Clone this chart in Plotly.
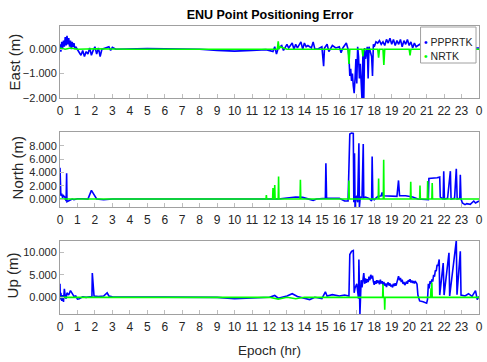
import plotly.graph_objects as go

# ---------------- data (hours, metres) ----------------
hour_ticks = list(range(0, 25))
hour_labels = [str(h) for h in range(24)] + ["0"]

east_ppp_t = [0.00,0.05,0.10,0.15,0.20,0.25,0.30,0.35,0.40,0.45,0.50,0.55,0.60,0.65,0.70,0.75,0.80,0.85,0.90,1.00,
              1.10,1.20,1.30,1.40,1.50,1.60,1.70,1.80,1.90,2.00,2.10,2.20,2.30,2.40,2.60,2.80,2.90,3.00,3.20,
              4.0,5.0,6.0,7.0,8.0,9.0,10.0,11.0,11.8,
              12.2,12.3,12.4,12.5,12.7,12.8,13.0,13.1,13.3,13.4,13.5,13.6,13.8,13.9,14.0,14.1,14.2,14.4,14.5,14.6,14.8,
              15.0,15.1,15.15,15.3,15.4,15.6,15.8,16.0,16.1,16.2,16.4,16.5,
              16.55,16.6,16.65,16.7,16.75,16.8,16.85,16.9,16.95,17.0,17.05,17.1,17.15,17.2,17.25,17.3,17.35,17.4,17.45,
              17.5,17.6,17.65,17.7,17.85,17.9,17.95,18.0,
              18.1,18.2,18.3,18.4,18.5,18.6,18.7,18.8,18.9,19.0,19.1,19.2,19.3,19.4,19.5,19.6,19.7,19.8,19.9,20.0,
              20.1,20.2,20.3,20.4,20.6,20.8,21.0,21.2,21.5,21.7,21.75,22.0,23.0,24.0]
east_ppp_v = [0.20,-0.10,0.30,0.05,0.35,0.10,0.50,0.15,0.55,0.20,0.45,0.10,0.35,0.00,0.30,0.10,0.25,0.00,0.10,0.00,
              -0.10,-0.25,-0.05,-0.30,-0.10,-0.20,0.05,-0.25,-0.05,0.10,-0.20,0.05,-0.30,0.00,0.05,0.10,-0.05,0.08,0.00,
              0.02,0.03,0.02,0.01,0.00,-0.05,-0.08,-0.05,-0.02,
              -0.10,0.10,-0.20,0.05,0.15,-0.05,0.20,0.05,0.25,0.00,0.20,0.05,0.30,0.00,0.25,0.10,0.15,0.05,0.30,0.00,0.02,
              0.10,-0.70,0.05,0.20,-0.10,0.15,0.05,0.10,-0.15,0.05,0.25,0.00,
              -0.30,-1.10,-0.80,-1.30,-1.00,-1.50,-1.80,-1.20,-0.40,-1.40,0.10,-0.30,-1.20,-0.60,-1.50,-2.10,-0.20,-2.10,0.05,
              -0.40,0.10,-1.20,0.10,-0.30,-1.10,0.20,0.10,
              0.30,0.25,0.35,0.20,0.30,0.15,0.40,0.25,0.45,0.20,0.40,0.15,0.35,0.20,0.40,0.10,0.35,0.20,0.40,0.15,
              0.30,0.05,0.25,0.10,0.20,0.05,0.10,0.10,0.05,0.90,0.05,0.10,0.05,0.05]

east_nrtk_t = [0.0,0.3,0.6,1.0,2.0,4.0,8.0,12.0,12.45,12.5,12.55,12.6,13.0,16.5,16.55,16.6,17.3,17.35,17.4,
               18.2,18.25,18.3,18.5,18.55,18.6,20.0,20.05,20.1,24.0]
east_nrtk_v = [0.05,0.00,0.05,0.00,0.02,0.00,0.00,0.00,0.00,0.32,0.00,0.10,0.00,0.00,-0.60,0.00,0.00,-0.30,0.00,
               0.00,-0.35,0.00,0.00,-0.65,0.00,0.00,-0.25,0.00,0.00]

north_ppp_t = [0.00,0.02,0.05,0.10,0.15,0.20,0.30,0.35,0.38,0.40,0.50,0.60,0.70,0.80,1.00,1.30,1.60,1.80,1.90,2.00,2.10,2.50,3.00,
               12.5,13.0,13.5,13.9,14.2,14.5,14.7,15.2,15.23,15.27,15.5,16.0,16.3,16.5,
               16.6,16.7,16.8,16.83,16.87,16.9,16.95,17.0,17.05,17.12,17.15,17.2,17.3,17.37,17.4,17.5,17.7,17.85,17.88,17.92,
               18.0,18.2,18.4,18.45,18.5,18.8,19.0,19.3,19.39,19.45,19.8,20.0,20.2,20.5,20.8,21.1,
               21.13,21.4,21.6,21.75,21.78,21.95,21.98,22.02,22.2,22.36,22.4,22.6,22.7,22.75,22.9,22.93,22.97,
               23.05,23.2,23.3,23.5,23.7,23.8,24.0]
north_ppp_v = [4.7,1.9,0.5,0.8,0.2,0.5,0.2,-0.3,3.9,-0.4,-0.3,-0.2,0.0,-0.1,0.05,0.05,0.0,1.3,0.9,0.4,0.0,-0.1,0.0,
               0.0,0.2,0.3,0.25,0.0,-0.2,0.0,0.1,5.4,0.1,0.1,0.1,-0.3,-0.3,
               9.8,9.95,9.9,-0.5,6.9,-1.2,0.2,0.5,-0.5,8.4,-1.2,0.3,0.2,8.3,0.2,0.3,0.1,-0.3,6.4,0.0,
               -0.1,0.4,0.5,1.0,0.5,0.5,0.5,0.4,2.8,0.5,0.5,0.4,0.3,0.0,0.0,-0.1,
               3.1,3.1,3.2,3.3,0.3,0.0,4.2,0.0,0.1,4.2,0.0,0.1,4.55,0.0,0.1,3.65,0.0,
               -0.6,-0.85,-0.7,-0.8,-0.3,-0.6,-0.3]

north_nrtk_t = [0.0,11.80,11.82,11.84,12.18,12.20,12.22,12.28,12.30,12.32,12.50,12.52,12.54,13.75,13.77,13.79,
                16.53,16.55,16.57,18.23,18.25,18.27,18.52,18.54,18.56,20.07,20.09,20.11,20.60,20.62,20.64,
                21.04,21.06,21.08,21.30,21.32,21.34,24.0]
north_nrtk_v = [0.0,0.0,0.6,0.0,0.0,1.65,0.0,0.0,2.1,0.0,0.0,3.4,0.0,0.0,2.9,0.0,
                0.0,2.8,0.0,0.0,3.1,0.0,0.0,5.9,0.0,0.0,2.6,0.0,0.0,2.05,0.0,
                0.0,2.7,0.0,0.0,2.4,0.0,0.0]

up_ppp_t = [0.00,0.02,0.05,0.10,0.15,0.20,0.25,0.30,0.35,0.40,0.50,0.60,0.70,0.80,0.90,1.00,1.10,1.30,1.50,
            1.83,1.85,1.90,1.95,2.20,2.50,2.70,2.80,3.00,4.0,5.0,6.0,7.0,8.0,9.0,10.0,11.0,12.0,12.3,12.5,
            13.0,13.3,13.6,14.0,14.3,14.6,15.0,15.2,15.3,15.6,16.0,16.3,16.55,
            16.6,16.7,16.8,16.85,16.9,17.0,17.1,17.12,17.18,
            17.22,17.25,17.3,17.35,17.4,17.45,17.5,17.55,17.6,17.65,17.7,17.75,17.8,17.85,17.9,17.95,
            18.0,18.05,18.1,18.15,18.2,18.25,18.3,18.35,18.4,18.45,18.5,18.55,18.6,18.65,18.7,18.75,18.8,18.85,18.9,18.95,
            19.0,19.05,19.1,19.15,19.2,19.25,19.3,19.35,19.39,19.45,19.5,19.55,19.6,19.65,19.7,19.75,19.8,19.85,19.9,19.95,
            20.0,20.05,20.1,20.15,20.2,20.25,20.3,20.35,20.4,20.45,
            20.5,20.6,20.8,21.0,21.05,
            21.1,21.15,21.2,21.25,21.3,21.35,21.4,21.45,21.5,21.55,21.6,21.65,21.72,
            21.75,21.95,22.0,22.28,22.32,22.7,22.74,22.93,22.97,
            23.2,23.4,23.6,23.8,23.9,24.0]
up_ppp_v = [3.0,-0.5,1.0,-0.8,0.5,-1.0,1.9,0.2,-0.3,1.0,0.5,1.5,0.8,0.2,0.3,-0.4,-0.3,0.1,0.0,
            0.2,5.4,2.5,0.3,0.2,0.3,1.0,0.3,0.1,0.1,0.05,0.0,0.1,0.05,0.0,-0.3,-0.2,0.0,0.4,-0.2,
            0.3,0.8,0.2,-0.2,-0.5,0.0,-0.3,1.2,0.3,0.6,0.3,0.5,0.3,
            9.5,10.2,10.4,1.0,2.1,3.0,-0.3,8.4,-3.7,
            2.5,3.8,2.2,4.0,5.4,3.0,4.2,3.2,4.0,3.4,4.6,3.8,5.0,4.2,4.8,3.5,
            2.8,3.6,3.0,3.8,3.2,3.7,2.9,3.9,3.1,3.6,2.7,3.4,2.6,3.1,2.3,3.0,3.3,2.6,3.1,2.4,
            2.8,2.2,3.0,2.5,3.1,2.6,3.4,4.2,4.7,3.8,4.3,3.4,3.9,3.0,3.4,2.7,3.1,3.5,3.0,3.8,
            3.5,4.0,3.3,3.7,3.2,3.6,3.1,3.5,3.3,2.9,
            0.5,-0.8,-1.0,-1.3,-0.5,
            3.0,2.0,3.6,3.0,4.0,3.5,5.0,4.6,6.0,5.8,7.2,7.0,8.4,
            0.5,7.6,0.5,9.9,0.3,12.6,0.6,10.2,0.5,
            0.3,0.8,0.2,1.5,-0.5,0.2]

up_nrtk_t = [0.0,12.0,12.5,13.0,13.5,14.0,18.48,18.5,18.52,18.58,18.6,18.62,21.23,21.25,21.27,21.28,21.3,21.32,24.0]
up_nrtk_v = [0.0,0.0,-0.4,0.0,-0.3,0.0,0.0,2.9,0.0,0.0,-2.75,0.0,0.0,2.0,0.0,0.0,3.3,0.0,0.0]

# ---------------- figure ----------------
BLUE = "#0000ff"
GREEN = "#00ff00"
FONT = "Liberation Sans, Arial, Helvetica, sans-serif"
TXT = "#262626"

fig = go.Figure()
panels = [("x", "y", east_ppp_t, east_ppp_v, east_nrtk_t, east_nrtk_v),
          ("x2", "y2", north_ppp_t, north_ppp_v, north_nrtk_t, north_nrtk_v),
          ("x3", "y3", up_ppp_t, up_ppp_v, up_nrtk_t, up_nrtk_v)]
for xa, ya, pt, pv, nt, nv in panels:
    fig.add_trace(go.Scatter(x=pt, y=pv, mode="lines", line=dict(color=BLUE, width=1.6),
                             xaxis=xa, yaxis=ya, showlegend=False, name="PPPRTK"))
    fig.add_trace(go.Scatter(x=nt, y=nv, mode="lines", line=dict(color=GREEN, width=1.6),
                             xaxis=xa, yaxis=ya, showlegend=False, name="NRTK"))

# geometry (pixels) -> paper
L, R, T, B = 60, 4, 26, 48
W, H = 487, 362
PH = H - T - B
def py(px):
    return (H - B - px) / PH
def pxx(px):
    return (px - L) / (W - L - R)

xcommon = dict(range=[0, 24], tickmode="array", tickvals=hour_ticks, ticktext=hour_labels,
               ticks="inside", ticklen=4, tickcolor="#bdbdbd", showgrid=False, zeroline=False,
               showline=True, mirror=True, linecolor="#a0a0a0", linewidth=1, ticklabelstandoff=2,
               tickfont=dict(family=FONT, size=12, color=TXT))
ycommon = dict(ticks="inside", ticklen=4, tickcolor="#bdbdbd", showgrid=False, zeroline=False,
               showline=True, mirror=True, linecolor="#a0a0a0", linewidth=1, tickformat=".3f",
               tickmode="array", tickfont=dict(family=FONT, size=11, color=TXT))

fig.update_layout(
    width=W, height=H, margin=dict(l=L, r=R, t=T, b=B),
    paper_bgcolor="white", plot_bgcolor="white", showlegend=False,
    xaxis=dict(xcommon, domain=[0, 1], anchor="y"),
    xaxis2=dict(xcommon, domain=[0, 1], anchor="y2"),
    xaxis3=dict(xcommon, domain=[0, 1], anchor="y3"),
    yaxis=dict(ycommon, domain=[py(98), py(26)], range=[-2.0, 0.95], tickvals=[-2, -1, 0], anchor="x"),
    yaxis2=dict(ycommon, domain=[py(207), py(132)], range=[-1.2, 10.1], tickvals=[0, 2, 4, 6, 8], anchor="x2"),
    yaxis3=dict(ycommon, domain=[py(314), py(241)], range=[-3.7, 12.5], tickvals=[0, 5, 10], anchor="x3"),
    title=dict(text="<b>ENU Point Positioning Error</b>", x=270 / W,
               xanchor="center", y=1 - 15 / H, yanchor="middle",
               font=dict(family=FONT, size=12.5, color="#000000")),
)

ann = []
for text, xp, yc in [("East (m)", 14, 62), ("North (m)", 17, 168), ("Up (m)", 12, 275)]:
    ann.append(dict(text=text, x=pxx(xp), y=py(yc), xref="paper", yref="paper", showarrow=False,
                    textangle=-90, xanchor="center", yanchor="middle",
                    font=dict(family=FONT, size=15, color=TXT)))
ann.append(dict(text="Epoch (hr)", x=pxx(271), y=py(350), xref="paper", yref="paper", showarrow=False,
                xanchor="center", yanchor="middle", font=dict(family=FONT, size=13.5, color=TXT)))
# legend (drawn manually to match the compact MATLAB legend)
for label, col, yc in [("PPPRTK", BLUE, 42), ("NRTK", GREEN, 56)]:
    ann.append(dict(text=f"<span style='color:{col}'>•</span> {label}", x=pxx(425), y=py(yc),
                    xref="paper", yref="paper", showarrow=False,
                    xanchor="left", yanchor="middle", font=dict(family=FONT, size=10.5, color=TXT)))
fig.update_layout(annotations=ann)
fig.add_shape(type="rect", xref="paper", yref="paper", x0=pxx(424), x1=pxx(480), y0=py(63), y1=py(27),
              fillcolor="white", line=dict(color="#a0a0a0", width=1), layer="above")

fig.write_html("out.html")
